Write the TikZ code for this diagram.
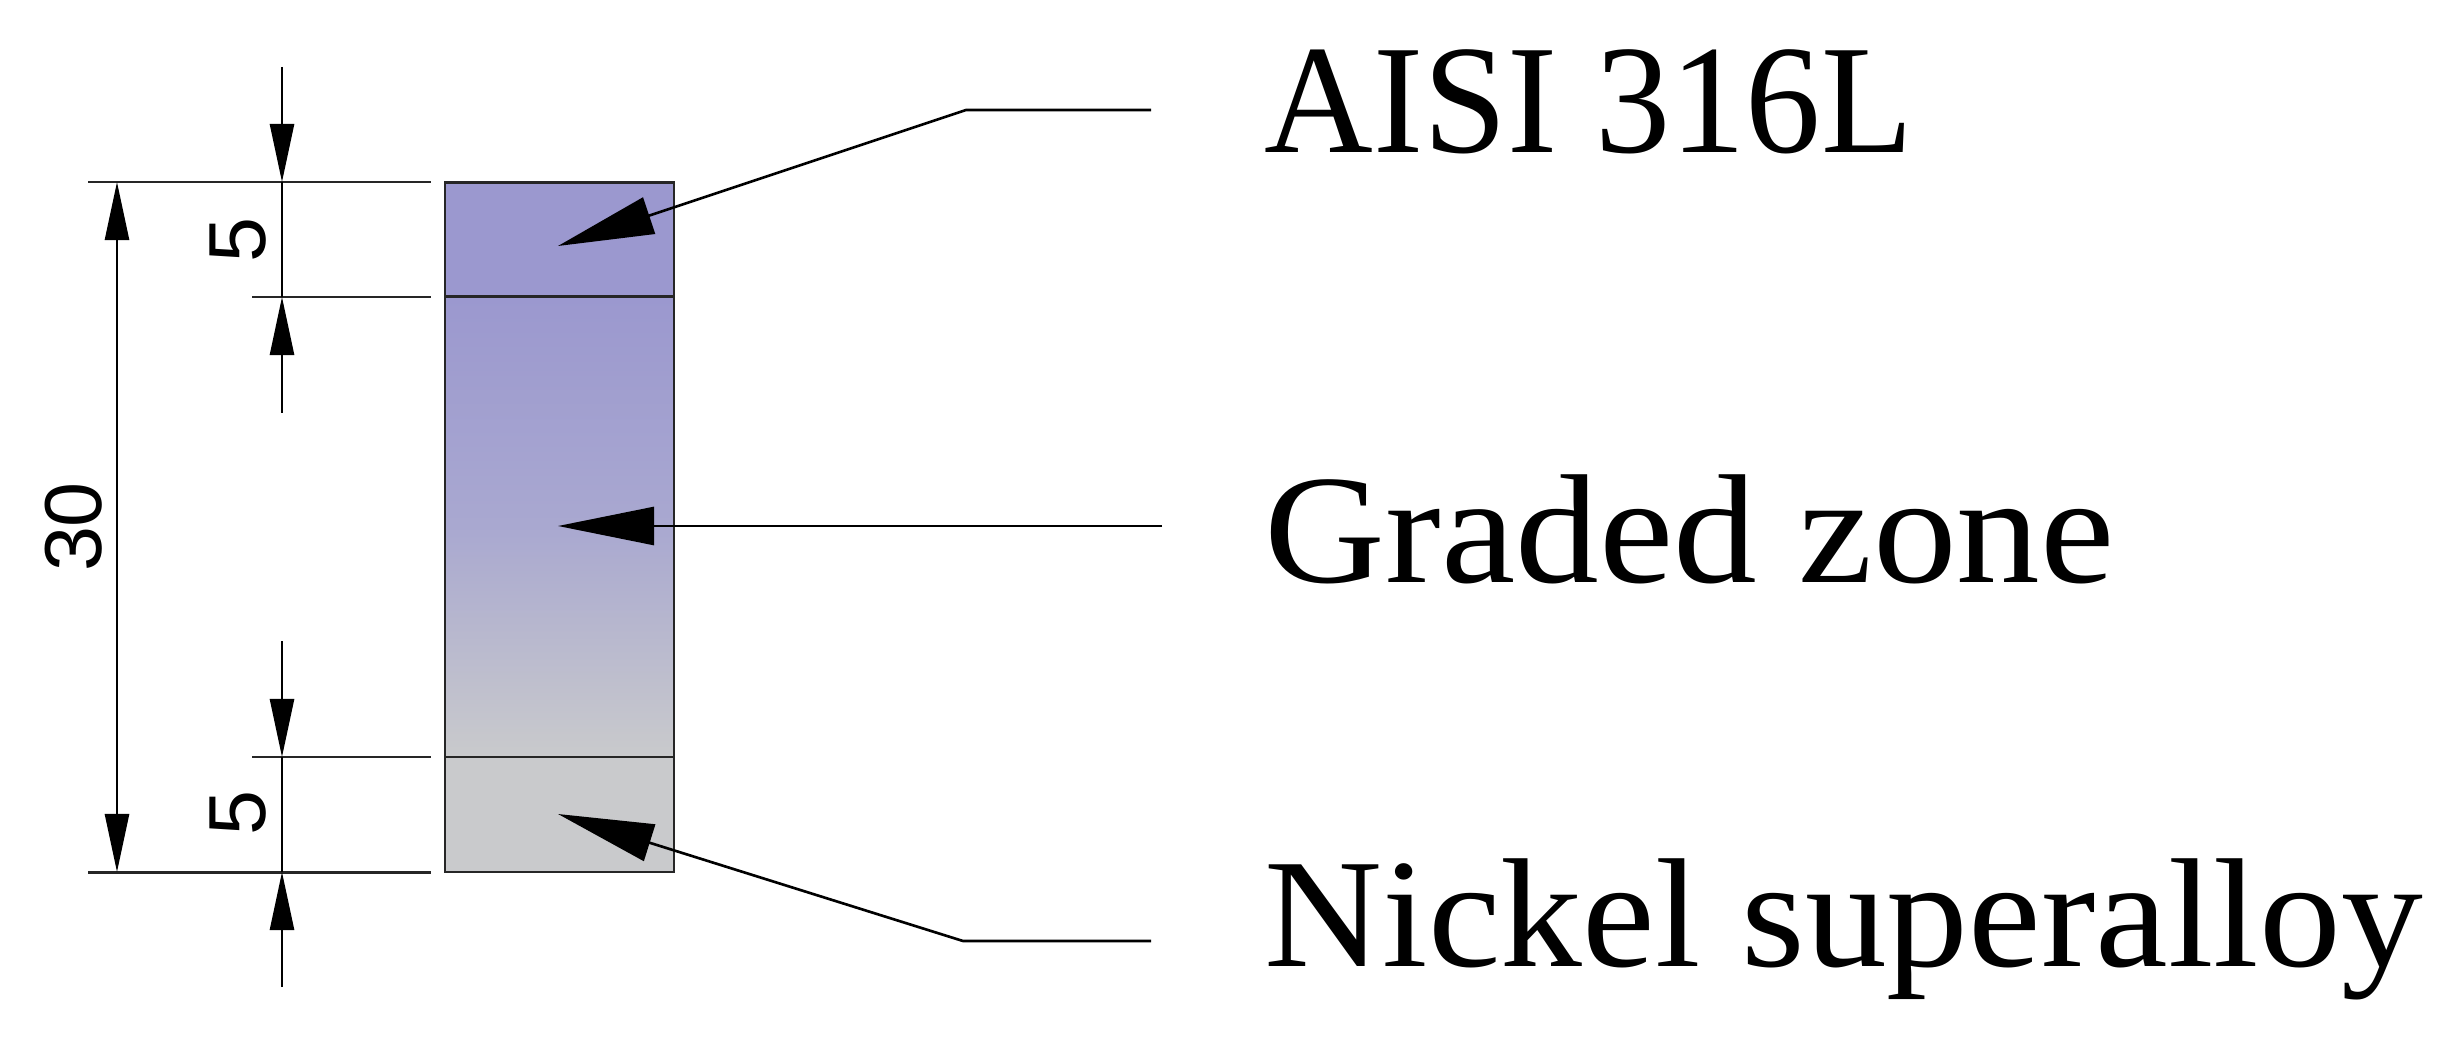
\documentclass[tikz,border=0pt]{standalone}
\usepackage{fontspec}
\setmainfont{Liberation Serif}
\setsansfont{Liberation Sans}
\usetikzlibrary{arrows.meta}
\definecolor{steelblue}{RGB}{155,152,207}
\definecolor{alloygray}{RGB}{201,202,204}
\tikzset{
  block/.style={draw=black!85,line width=0.8pt,inner sep=0pt,minimum width=2.29cm},
  dimline/.style={line width=0.75pt,-{Triangle[length=0.58cm,width=0.24cm]}},
  extline/.style={line width=0.85pt,black!85},
  leader/.style={line width=0.75pt,-{Triangle[length=0.96cm,width=0.38cm]}},
  zonelabel/.style={anchor=base west,inner sep=0pt,transform shape,yscale=0.95,font=\fontsize{46.5}{50}\selectfont},
  dimlabel/.style={rotate=90,inner sep=0pt,font=\sffamily\fontsize{23}{25}\selectfont}
}
\begin{document}
\begin{tikzpicture}[x=0.01cm,y=-0.01cm]
      \useasboundingbox (0,0) rectangle (2455,1064);
      \node[block,fill=steelblue,minimum height=1.15cm] (topzone) at (559.5,240) {};
      \node[block,top color=steelblue,bottom color=alloygray,middle color=steelblue!50!alloygray!95!blue,minimum height=4.6cm] (gradedzone) at (559.5,527) {};
      \node[block,fill=alloygray,minimum height=1.15cm] (bottomzone) at (559.5,814.5) {};
      \coordinate (toptip) at (558,246);
      \coordinate (midtip) at (558,526);
      \coordinate (bottomtip) at (558,814);
      \coordinate (topelbow) at (966,110);
      \coordinate (bottomelbow) at (963,941);
      \coordinate (topend) at (1151,110);
      \coordinate (midend) at (1162,526);
      \coordinate (bottomend) at (1151,941);
      \draw[leader] (topend) -- (topelbow) -- (toptip);
      \draw[leader] (midend) -- (midtip);
      \draw[leader] (bottomend) -- (bottomelbow) -- (bottomtip);
      \node[zonelabel,xscale=0.921] (steellabel) at (1264,153) {AISI 316L};
      \node[zonelabel,xscale=1.023] (gradedlabel) at (1264,582.5) {Graded zone};
      \node[zonelabel] (alloylabel) at (1264,966) {Nickel superalloy};
      \coordinate (longtop) at (117,182);
      \coordinate (longbottom) at (117,872);
      \coordinate (topa) at (282,67);
      \coordinate (topb) at (282,182);
      \coordinate (topc) at (282,297);
      \coordinate (topd) at (282,413);
      \coordinate (lowa) at (282,641);
      \coordinate (lowb) at (282,757);
      \coordinate (lowc) at (282,872);
      \coordinate (lowd) at (282,987);
      \draw[extline] (88,182) -- (431,182);
      \draw[extline] (252,297) -- (431,297);
      \draw[extline] (252,757) -- (431,757);
      \draw[extline] (88,872) -- (431,872);
      \draw[dimline,{Triangle[length=0.58cm,width=0.24cm]}-{Triangle[length=0.58cm,width=0.24cm]}] (longtop) -- (longbottom);
      \draw[dimline] (topa) -- (topb);
      \draw[dimline] (topd) -- (topc);
      \draw[line width=0.75pt] (topb) -- (topc);
      \draw[dimline] (lowa) -- (lowb);
      \draw[dimline] (lowd) -- (lowc);
      \draw[line width=0.75pt] (lowb) -- (lowc);
      \node[dimlabel] (upperfive) at (238,240) {5};
      \node[dimlabel] (lowerfive) at (238,813) {5};
      \node[dimlabel] (totalthirty) at (74,527) {30};
\end{tikzpicture}
\end{document}
